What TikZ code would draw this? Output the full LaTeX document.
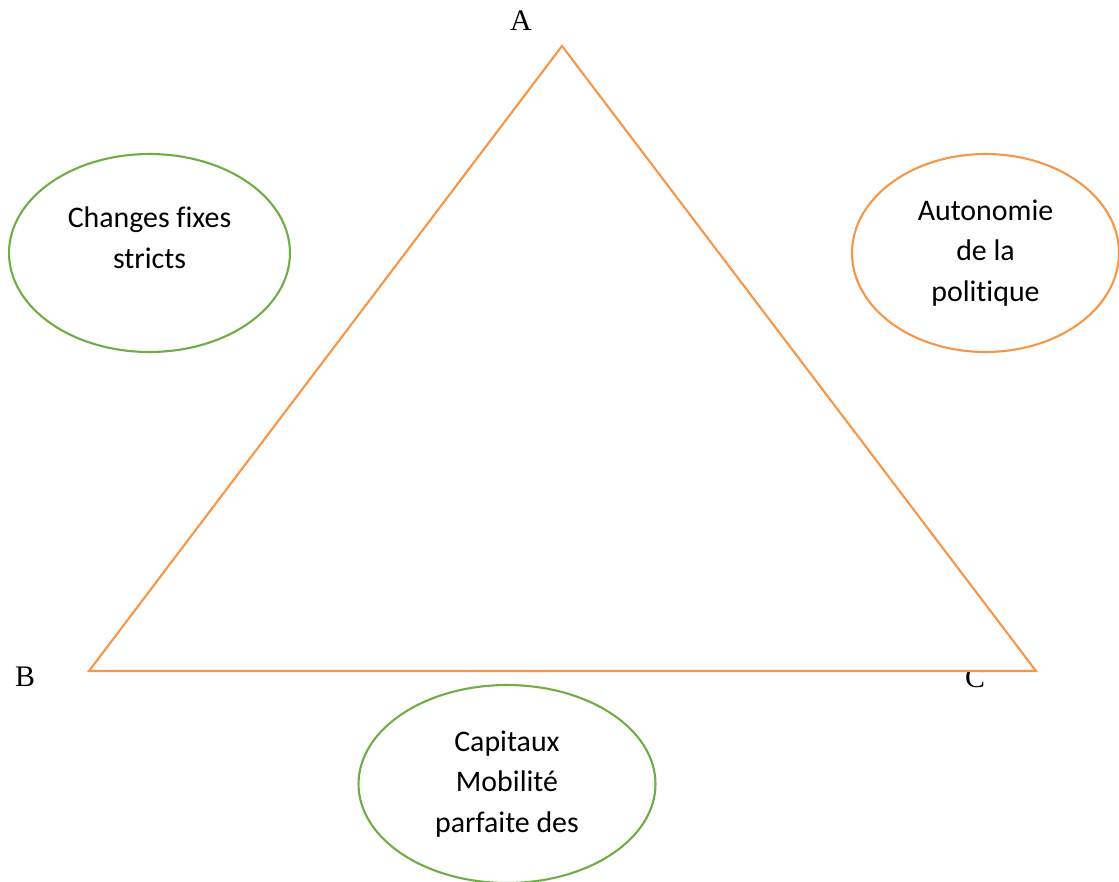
\documentclass[tikz,border=0pt]{standalone}
\usepackage{fontspec}
\setmainfont{Liberation Serif}
\newfontfamily\bodyfont[Ligatures={NoCommon,NoContextual}]{Carlito}
\usetikzlibrary{shapes.geometric}
\definecolor{triorange}{HTML}{F79646}
\definecolor{ringgreen}{HTML}{70AD47}

\begin{document}
\begin{tikzpicture}[x=0.02cm, y=-0.02cm,
    vertex/.style = {font=\fontsize{17}{20}\selectfont, inner sep=0pt},
    ring/.style = {ellipse, draw, line width=1.2pt, inner sep=0pt,
        minimum height=3.96cm,
        align=center, font=\bodyfont\fontsize{17}{23}\selectfont},
    side/.style = {draw=triorange, fill=white, line width=1.2pt}]
    \useasboundingbox (0,0) rectangle (1119,882);
    % corner letters (C sits partly under the triangle)
    \node[vertex] (labA) at (521,21) {A};
    \node[vertex] (labB) at (25,677) {B};
    \node[vertex] (labC) at (975,678) {C};
    % triangle
    \coordinate (a) at (562,46);
    \coordinate (b) at (89,671);
    \coordinate (c) at (1036,671);
    \draw[side] (a) -- (b) -- (c) -- cycle;
    % the three goals
    \node[ring, draw=ringgreen, minimum width=5.62cm] (fixes) at (149.5,253)
        {Changes fixes\\stricts\\[-0.2cm]\mbox{}};
    \node[ring, draw=triorange, minimum width=5.34cm] (autonomie) at (985.5,253)
        {Autonomie\\de la\\politique};
    \node[ring, draw=ringgreen, minimum width=5.94cm] (capitaux) at (507,784)
        {Capitaux\\Mobilité\\parfaite des};
\end{tikzpicture}
\end{document}
